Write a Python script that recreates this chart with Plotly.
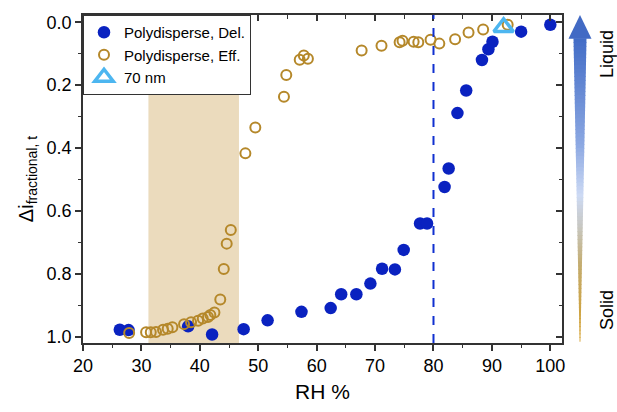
import plotly.graph_objects as go

# ---- data ----
del_rh = [26.3, 27.8, 38.0, 42.1, 47.5, 51.6, 57.4, 62.4, 64.2, 66.8, 69.2, 71.2, 73.4,
          74.9, 77.7, 78.9, 81.9, 82.6, 84.1, 85.6, 88.3, 89.4, 90.1, 95.0, 100.0]
del_di = [0.978, 0.979, 0.967, 0.993, 0.976, 0.948, 0.921, 0.909, 0.865, 0.865, 0.831, 0.784, 0.786,
          0.724, 0.640, 0.640, 0.524, 0.465, 0.289, 0.217, 0.120, 0.086, 0.062, 0.030, 0.008]

eff_rh = [27.9, 30.8, 31.6, 32.5, 33.7, 34.5, 35.3, 37.3, 38.5, 39.7, 40.5, 41.4, 41.8, 42.5,
          43.5, 44.1, 44.6, 45.3, 47.8, 49.5, 54.4, 54.8, 57.1, 57.8, 58.5, 67.7, 71.1,
          74.2, 74.7, 76.6, 77.4, 79.5, 81.0, 83.7, 86.0, 88.5, 92.7]
eff_di = [0.988, 0.986, 0.986, 0.985, 0.978, 0.975, 0.970, 0.960, 0.954, 0.949, 0.942, 0.937, 0.931, 0.923,
          0.882, 0.785, 0.704, 0.661, 0.417, 0.335, 0.237, 0.168, 0.119, 0.106, 0.116, 0.090, 0.075,
          0.064, 0.059, 0.062, 0.064, 0.056, 0.068, 0.054, 0.033, 0.023, 0.008]

nm70_rh = [92.0]
nm70_di = [0.016]

shade_rh = [31.2, 46.7]
drh_line = 80

x_range = [20, 102]
y_range = [1.02, -0.023]

# ---- layout geometry (pixels) ----
W, H = 617, 412
L, R, T, B = 83, 55, 15, 60
PW, PH = W - L - R, H - T - B

def px2x(px):
    return (px - L) / PW

def py2y(py):
    return (H - B - py) / PH

font_family = "Liberation Sans, Arial, sans-serif"

fig = go.Figure()

fig.add_trace(go.Scatter(
    x=del_rh, y=del_di, mode="markers", name="Polydisperse, Del.",
    marker=dict(color="#0A22C0", size=12.5, line=dict(width=0)),
))
fig.add_trace(go.Scatter(
    x=eff_rh, y=eff_di, mode="markers", name="Polydisperse, Eff.",
    marker=dict(symbol="circle-open", color="#B5882A", size=10, line=dict(width=2)),
))
fig.add_trace(go.Scatter(
    x=nm70_rh, y=nm70_di, mode="markers", name="70 nm",
    marker=dict(symbol="triangle-up-open", color="#4DB6F0", size=17, line=dict(width=3.5)),
))
# invisible trace for mirrored (inside-tick) axes
fig.add_trace(go.Scatter(x=x_range, y=[0.5, 0.5], xaxis="x2", yaxis="y2", mode="markers",
                         marker=dict(opacity=0), showlegend=False, hoverinfo="skip"))

shapes = []
shapes.append(dict(type="rect", xref="x", yref="paper", x0=shade_rh[0], x1=shade_rh[1], y0=0, y1=1,
                   fillcolor="#EBDBBD", line=dict(width=0), layer="below"))
shapes.append(dict(type="line", xref="x", yref="paper", x0=drh_line, x1=drh_line, y0=0, y1=1,
                   line=dict(color="#1030D0", width=2, dash="dash")))

# gradient arrow on the right
def lerp(a, b, t):
    return a + (b - a) * t

stops = [(0.0, (66, 108, 198)), (0.35, (140, 168, 226)), (0.52, (205, 218, 244)),
         (0.62, (200, 200, 195)), (0.75, (196, 172, 110)), (1.0, (212, 158, 40))]

def color_at(t):
    for i in range(len(stops) - 1):
        t0, c0 = stops[i]
        t1, c1 = stops[i + 1]
        if t <= t1:
            f = (t - t0) / (t1 - t0) if t1 > t0 else 0
            return "rgb(%d,%d,%d)" % tuple(round(lerp(c0[k], c1[k], f)) for k in range(3))
    return "rgb(%d,%d,%d)" % stops[-1][1]

cx = 580
tip, head_base, bottom = 15, 39, 350
head_hw, shaft_top_hw, shaft_bot_hw = 11.5, 6.5, 0.4
N = 80
for i in range(N):
    ya = head_base + (bottom - head_base) * i / N
    yb = head_base + (bottom - head_base) * (i + 1) / N + 0.8
    wa = lerp(shaft_top_hw, shaft_bot_hw, i / N)
    wb = lerp(shaft_top_hw, shaft_bot_hw, min(1, (i + 1) / N))
    path = "M %f %f L %f %f L %f %f L %f %f Z" % (
        px2x(cx - wa), py2y(ya), px2x(cx + wa), py2y(ya),
        px2x(cx + wb), py2y(yb), px2x(cx - wb), py2y(yb))
    shapes.append(dict(type="path", xref="paper", yref="paper", path=path,
                       fillcolor=color_at((i + 0.5) / N), line=dict(width=0)))
shapes.append(dict(type="path", xref="paper", yref="paper",
                   path="M %f %f L %f %f L %f %f Z" % (px2x(cx), py2y(tip), px2x(cx + head_hw), py2y(head_base + 0.5),
                                                      px2x(cx - head_hw), py2y(head_base + 0.5)),
                   fillcolor="rgb(66,106,196)", line=dict(width=0)))

annotations = [
    dict(text="Liquid", xref="paper", yref="paper", x=px2x(607), y=py2y(55), xanchor="center",
         yanchor="middle", textangle=-90, showarrow=False,
         font=dict(size=18, color="black", family=font_family)),
    dict(text="Solid", xref="paper", yref="paper", x=px2x(607), y=py2y(318), xanchor="center",
         yanchor="middle", textangle=-90, showarrow=False,
         font=dict(size=18, color="black", family=font_family)),
]

axis_line = dict(showline=True, linecolor="#333333", linewidth=1.5, mirror=True, showgrid=False,
                 zeroline=False)

fig.update_layout(
    width=W, height=H, margin=dict(l=L, r=R, t=T, b=B, pad=0),
    paper_bgcolor="white", plot_bgcolor="white",
    font=dict(family=font_family, color="black"),
    shapes=shapes, annotations=annotations,
    xaxis=dict(range=x_range, dtick=10, tick0=0, ticks="outside", ticklen=6, tickwidth=1.5,
               tickcolor="#333333", tickfont=dict(size=18),
               minor=dict(dtick=5, ticks="outside", ticklen=3.5, tickwidth=1.2, tickcolor="#333333"),
               title=dict(text="RH %", font=dict(size=21), standoff=9), **axis_line),
    yaxis=dict(range=y_range, dtick=0.2, tick0=0, tickformat=".1f", ticks="outside", ticklen=6,
               tickwidth=1.5, tickcolor="#333333", tickfont=dict(size=18),
               minor=dict(dtick=0.1, ticks="outside", ticklen=3.5, tickwidth=1.2, tickcolor="#333333"),
               title=dict(text="Δi<sub>fractional, t</sub>", font=dict(size=20), standoff=8), **axis_line),
    xaxis2=dict(range=x_range, overlaying="x", side="top", dtick=10, tick0=0, ticks="inside", ticklen=6,
                tickwidth=1.5, tickcolor="#333333", showticklabels=False, showgrid=False, zeroline=False,
                minor=dict(dtick=5, ticks="inside", ticklen=3.5, tickwidth=1.2, tickcolor="#333333")),
    yaxis2=dict(range=y_range, overlaying="y", side="right", dtick=0.2, tick0=0, ticks="inside", ticklen=6,
                tickwidth=1.5, tickcolor="#333333", showticklabels=False, showgrid=False, zeroline=False,
                minor=dict(dtick=0.1, ticks="inside", ticklen=3.5, tickwidth=1.2, tickcolor="#333333")),
    legend=dict(x=0, y=1, xanchor="left", yanchor="top", bgcolor="white", bordercolor="#333333",
                borderwidth=1, font=dict(size=15), tracegroupgap=0, itemwidth=30),
    showlegend=True,
)

fig.write_html("out.html")
